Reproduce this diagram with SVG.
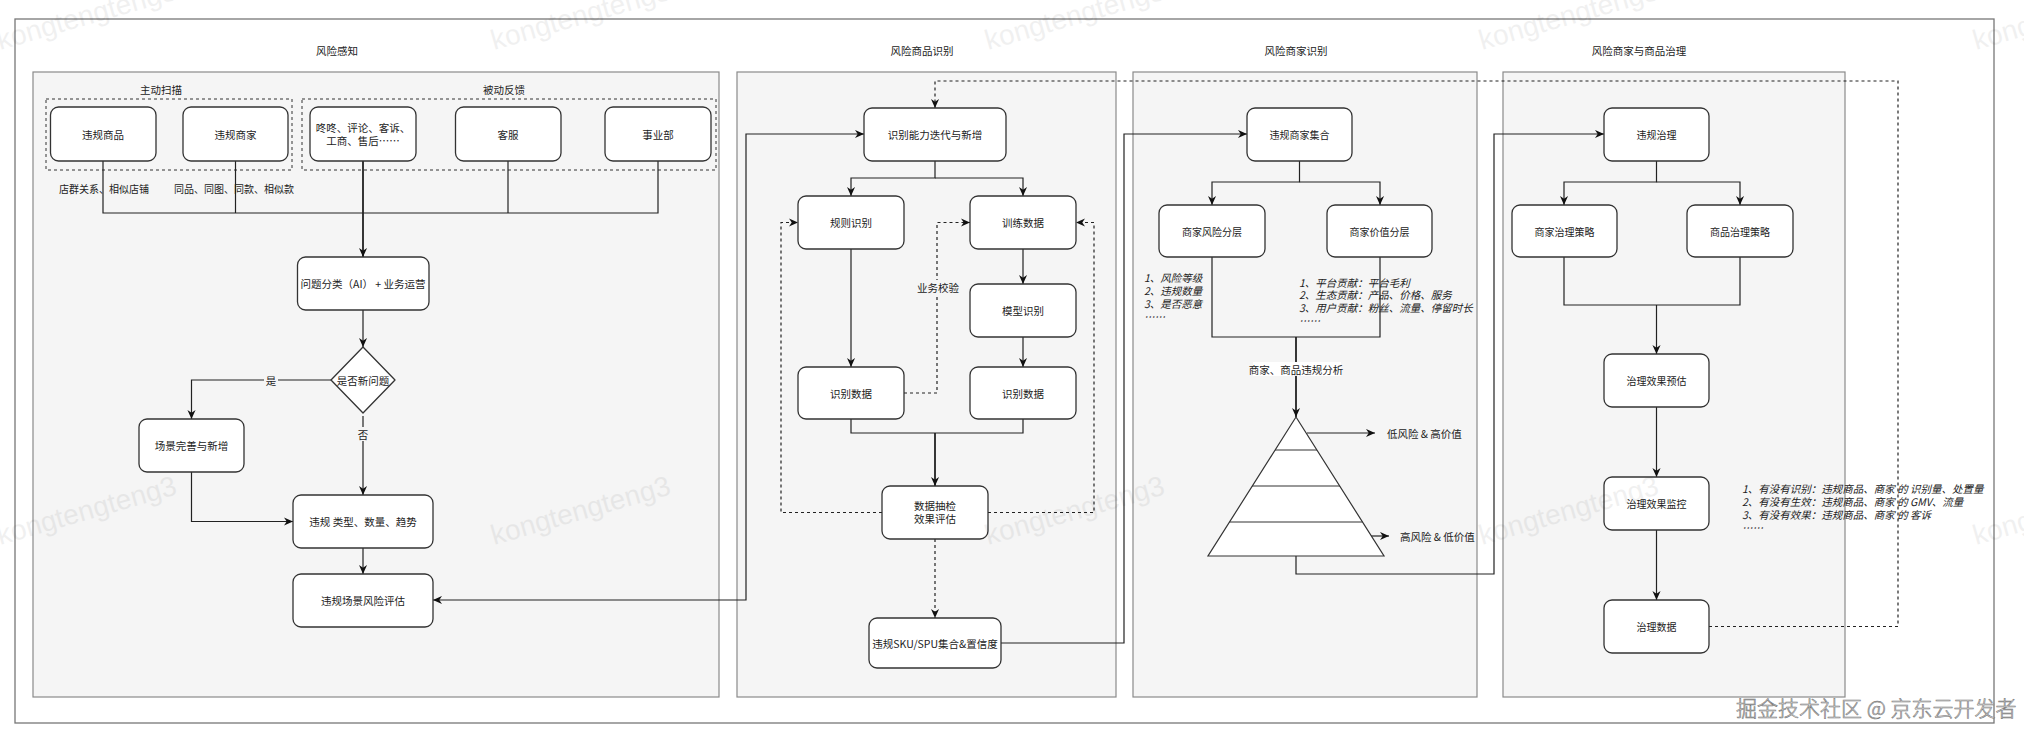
<svg xmlns="http://www.w3.org/2000/svg" width="2024" height="739" viewBox="0 0 2024 739">
<style>
.bg{fill:#fff}
.frame{fill:#fff;stroke:#777;stroke-width:1.3}
.panel{fill:#f5f5f5;stroke:#8a8a8a;stroke-width:1.2}
.grp{fill:none;stroke:#333;stroke-width:1;stroke-dasharray:3 3}
.box{fill:#fff;stroke:#333;stroke-width:1.3}
.t{font-family:"Noto Sans CJK SC","Liberation Sans",sans-serif;font-size:10.5px;fill:#222;text-anchor:middle;dominant-baseline:central}
.s10{font-size:10px}
.note{font-family:"Noto Sans CJK SC","Liberation Sans",sans-serif;font-size:10.5px;fill:#222;font-style:italic;dominant-baseline:central}
.e{fill:none;stroke:#222;stroke-width:1.2}
.ar{marker-end:url(#a)}
.d{stroke-dasharray:3 3}
.wm{font-family:"Liberation Sans",sans-serif;font-size:28px;fill:#000;opacity:0.055}
.lbg{stroke:none}
</style>
<defs>
<marker id="a" viewBox="0 0 10 10" refX="10" refY="5" markerWidth="9" markerHeight="9" markerUnits="userSpaceOnUse" orient="auto-start-reverse">
<path d="M0,0.5 L10,5 L0,9.5 L3,5 z" fill="#111"/>
</marker>
</defs>
<rect class="bg" x="0" y="0" width="2024" height="739"/>
<rect class="frame" x="15" y="19" width="1979" height="704"/>

<g id="panels">
<g id="panel-risk-perception">
<text class="t" x="337" y="50">风险感知</text>
<rect class="panel" x="33" y="72" width="686" height="625"/>
</g>
<g id="panel-goods-identify">
<text class="t" x="922" y="50">风险商品识别</text>
<rect class="panel" x="737" y="72" width="379" height="625"/>
</g>
<g id="panel-merchant-identify">
<text class="t" x="1296" y="50">风险商家识别</text>
<rect class="panel" x="1133" y="72" width="344" height="625"/>
</g>
<g id="panel-governance">
<text class="t" x="1639" y="50">风险商家与商品治理</text>
<rect class="panel" x="1503" y="72" width="342" height="625"/>
</g>
</g>

<g id="groups">
<text class="t" x="161" y="89">主动扫描</text>
<rect class="grp" x="46" y="99" width="246" height="71"/>
<text class="t" x="504" y="89">被动反馈</text>
<rect class="grp" x="302" y="99" width="414" height="71"/>
</g>

<g id="connectors">
<path class="e" d="M103,161 V213 H363"/>
<path class="e" d="M235.5,161 V213"/>
<path class="e" d="M658,161 V213 H363"/>
<path class="e" d="M508,161 V213"/>
<path class="e ar" style="stroke-width:1.8" d="M363,161 V257"/>
<text class="t s10" x="104" y="188">店群关系、相似店铺</text>
<text class="t s10" x="234" y="188">同品、同图、同款、相似款</text>
<path class="e ar" d="M363,310 V347"/>
<path class="e ar" d="M331,380 H191.5 V419"/>
<rect class="lbg" x="264" y="373" width="14" height="14" fill="#f5f5f5"/>
<text class="t" x="271" y="380">是</text>
<path class="e ar" d="M363,416 V495"/>
<rect class="lbg" x="356" y="427" width="14" height="14" fill="#f5f5f5"/>
<text class="t" x="363" y="434">否</text>
<path class="e ar" d="M191.5,472 V521.5 H293"/>
<path class="e ar" d="M363,548 V574"/>
<path class="e ar" style="marker-start:url(#a)" d="M433,600 H746 V134 H864"/>

<path class="e ar" d="M935,161 V178 H851 V196"/>
<path class="e ar" d="M935,178 H1023 V196"/>
<path class="e ar" d="M851,249 V367"/>
<path class="e ar" d="M1023,249 V284"/>
<path class="e ar" d="M1023,337 V367"/>
<path class="e" d="M851,419 V433 H1023 V419"/>
<path class="e ar" style="stroke-width:1.8" d="M935,433 V486"/>
<path class="e d ar" d="M882,512.5 H781 V222.5 H798"/>
<path class="e d ar" d="M988,512.5 H1094 V222.5 H1076"/>
<path class="e d ar" d="M904,393 H937 V222.5 H970"/>
<rect class="lbg" x="914" y="280" width="48" height="14" fill="#f5f5f5"/>
<text class="t" x="938" y="287">业务校验</text>
<path class="e d ar" d="M935,539 V618"/>
<path class="e ar" d="M1001,643 H1124 V134 H1247"/>
<path class="e d ar" d="M1709,626.5 H1898 V81 H935 V108"/>

<path class="e ar" d="M1299.5,161 V182 H1212 V205"/>
<path class="e ar" d="M1299.5,182 H1380 V205"/>
<path class="e" d="M1212,257 V337 H1380 V257"/>
<path class="e ar" style="stroke-width:1.8" d="M1296,337 V417"/>
<rect class="lbg" x="1253" y="362" width="88" height="14" fill="#fff"/>
<text class="t" x="1296" y="369">商家、商品违规分析</text>
<path class="e ar" d="M1307,433 H1375"/>
<path class="e ar" d="M1371,536 H1389"/>
<path class="e ar" d="M1296,556 V574 H1494 V134 H1604"/>

<path class="e ar" d="M1656.5,161 V182 H1564 V205"/>
<path class="e ar" d="M1656.5,182 H1740 V205"/>
<path class="e" d="M1564,257 V305 H1740 V257"/>
<path class="e ar" d="M1656.5,305 V354"/>
<path class="e ar" d="M1656.5,407 V477"/>
<path class="e ar" d="M1656.5,530 V600"/>
</g>

<g id="n-weigui-goods"><rect class="box" x="50.5" y="107" width="105.5" height="54" rx="8"/><text class="t" x="103" y="134">违规商品</text></g>
<g id="n-weigui-merchant"><rect class="box" x="183" y="107" width="105" height="54" rx="8"/><text class="t" x="235.5" y="134">违规商家</text></g>
<g id="n-feedback"><rect class="box" x="310" y="107" width="106" height="54" rx="8"/><text class="t" x="363" y="127">咚咚、评论、客诉、</text><text class="t" x="363" y="140">工商、售后……</text></g>
<g id="n-kefu"><rect class="box" x="455.5" y="107" width="105.5" height="54" rx="8"/><text class="t" x="508" y="134">客服</text></g>
<g id="n-bu"><rect class="box" x="605" y="107" width="106" height="54" rx="8"/><text class="t" x="658" y="134">事业部</text></g>
<g id="n-classify"><rect class="box" x="297.5" y="257" width="131.5" height="53" rx="8"/><text class="t" x="363" y="283.5">问题分类（AI） + 业务运营</text></g>
<g id="n-newq"><polygon class="box" style="stroke-linejoin:round" points="363,347 395,380 363,413 331,380"/><text class="t" x="363" y="380">是否新问题</text></g>
<g id="n-scene"><rect class="box" x="139" y="419" width="105" height="53" rx="8"/><text class="t" x="191.5" y="445.5">场景完善与新增</text></g>
<g id="n-type"><rect class="box" x="293" y="495" width="140" height="53" rx="8"/><text class="t" x="363" y="521.5">违规 类型、数量、趋势</text></g>
<g id="n-scene-risk"><rect class="box" x="293" y="574" width="140" height="53" rx="8"/><text class="t" x="363" y="600.5">违规场景风险评估</text></g>

<g id="n-iterate"><rect class="box" x="864" y="108" width="142" height="53" rx="8"/><text class="t" x="935" y="134.5">识别能力迭代与新增</text></g>
<g id="n-rule"><rect class="box" x="798" y="196" width="106" height="53" rx="8"/><text class="t" x="851" y="222.5">规则识别</text></g>
<g id="n-train"><rect class="box" x="970" y="196" width="106" height="53" rx="8"/><text class="t" x="1023" y="222.5">训练数据</text></g>
<g id="n-model"><rect class="box" x="970" y="284" width="106" height="53" rx="8"/><text class="t" x="1023" y="310.5">模型识别</text></g>
<g id="n-data-left"><rect class="box" x="798" y="367" width="106" height="52" rx="8"/><text class="t" x="851" y="393">识别数据</text></g>
<g id="n-data-right"><rect class="box" x="970" y="367" width="106" height="52" rx="8"/><text class="t" x="1023" y="393">识别数据</text></g>
<g id="n-sample"><rect class="box" x="882" y="486" width="106" height="53" rx="8"/><text class="t" x="935" y="505">数据抽检</text><text class="t" x="935" y="518">效果评估</text></g>
<g id="n-sku"><rect class="box" x="869" y="618" width="132" height="50" rx="8"/><text class="t" x="935" y="643">违规SKU/SPU集合&amp;置信度</text></g>

<g id="n-merchant-set"><rect class="box" x="1247" y="108" width="105" height="53" rx="8"/><text class="t s10" x="1299.5" y="134.5">违规商家集合</text></g>
<g id="n-risk-layer"><rect class="box" x="1159" y="205" width="106" height="52" rx="8"/><text class="t s10" x="1212" y="231">商家风险分层</text></g>
<g id="n-value-layer"><rect class="box" x="1327" y="205" width="105" height="52" rx="8"/><text class="t s10" x="1379.5" y="231">商家价值分层</text></g>
<g id="note-risk"><text class="note" x="1144" y="277">1、风险等级</text><text class="note" x="1144" y="290">2、违规数量</text><text class="note" x="1144" y="303">3、是否恶意</text><text class="note" x="1144" y="316">……</text></g>
<g id="note-value"><text class="note" x="1299" y="282">1、平台贡献：平台毛利</text><text class="note" x="1299" y="294.5">2、生态贡献：产品、价格、服务</text><text class="note" x="1299" y="307">3、用户贡献：粉丝、流量、停留时长</text><text class="note" x="1299" y="320">……</text></g>
<g id="n-pyramid">
<polygon points="1296,417 1384,556 1208,556" fill="#fff" stroke="#333" stroke-width="1.2" stroke-linejoin="miter"/>
<path d="M1275,450 H1317 M1252,486 H1340 M1229.5,522 H1362.5" stroke="#333" stroke-width="1.2" fill="none"/>
</g>
<g id="lbl-low"><text class="t" style="text-anchor:start" x="1387" y="433">低风险 &amp; 高价值</text></g>
<g id="lbl-high"><text class="t" style="text-anchor:start" x="1400" y="536">高风险 &amp; 低价值</text></g>

<g id="n-govern"><rect class="box" x="1604" y="108" width="105" height="53" rx="8"/><text class="t s10" x="1656.5" y="134.5">违规治理</text></g>
<g id="n-merchant-strategy"><rect class="box" x="1512" y="205" width="105" height="52" rx="8"/><text class="t s10" x="1564.5" y="231">商家治理策略</text></g>
<g id="n-goods-strategy"><rect class="box" x="1687" y="205" width="106" height="52" rx="8"/><text class="t s10" x="1740" y="231">商品治理策略</text></g>
<g id="n-predict"><rect class="box" x="1604" y="354" width="105" height="53" rx="8"/><text class="t s10" x="1656.5" y="380.5">治理效果预估</text></g>
<g id="n-monitor"><rect class="box" x="1604" y="477" width="105" height="53" rx="8"/><text class="t s10" x="1656.5" y="503.5">治理效果监控</text></g>
<g id="n-gov-data"><rect class="box" x="1604" y="600" width="105" height="53" rx="8"/><text class="t s10" x="1656.5" y="626.5">治理数据</text></g>
<g id="note-monitor"><text class="note" x="1742" y="488">1、有没有识别：违规商品、商家 的 识别量、处置量</text><text class="note" x="1742" y="501">2、有没有生效：违规商品、商家 的 GMV、流量</text><text class="note" x="1742" y="514">3、有没有效果：违规商品、商家 的 客诉</text><text class="note" x="1742" y="527">……</text></g>

<g id="watermarks">
<text class="wm" transform="rotate(-16 0 50)" x="0" y="50">kongtengteng3</text>
<text class="wm" transform="rotate(-16 494 50)" x="494" y="50">kongtengteng3</text>
<text class="wm" transform="rotate(-16 988 50)" x="988" y="50">kongtengteng3</text>
<text class="wm" transform="rotate(-16 1482 50)" x="1482" y="50">kongtengteng3</text>
<text class="wm" transform="rotate(-16 1976 50)" x="1976" y="50">kongtengteng3</text>
<text class="wm" transform="rotate(-16 0 545)" x="0" y="545">kongtengteng3</text>
<text class="wm" transform="rotate(-16 494 545)" x="494" y="545">kongtengteng3</text>
<text class="wm" transform="rotate(-16 988 545)" x="988" y="545">kongtengteng3</text>
<text class="wm" transform="rotate(-16 1482 545)" x="1482" y="545">kongtengteng3</text>
<text class="wm" transform="rotate(-16 1976 545)" x="1976" y="545">kongtengteng3</text>
<text x="1736" y="716" style="font-family:'Noto Sans CJK SC','Liberation Sans',sans-serif;font-size:21px;font-weight:300;fill:#ececec;stroke:#7a7a7a;stroke-width:0.6">掘金技术社区 @ 京东云开发者</text>
</g>
</svg>
